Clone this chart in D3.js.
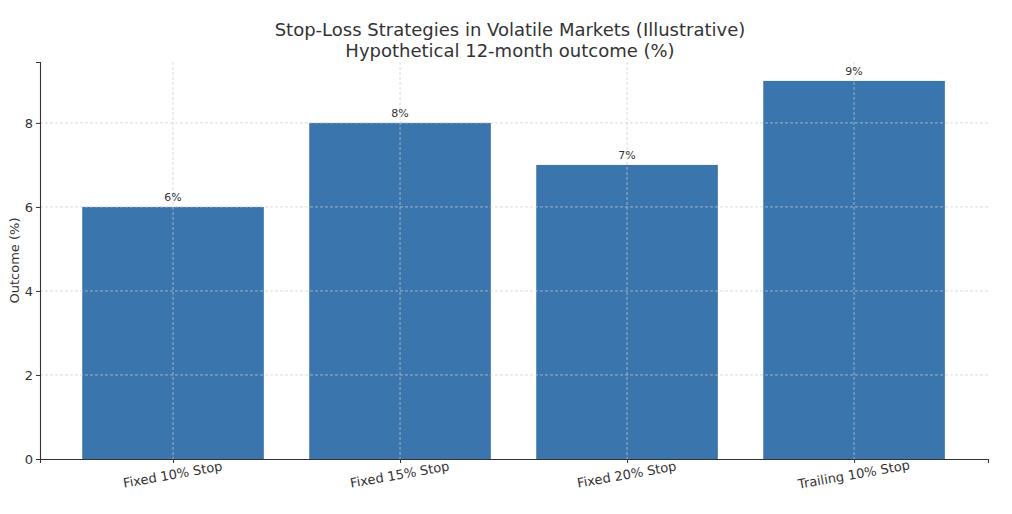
<!DOCTYPE html>
<html>
<head>
<meta charset="utf-8">
<script src="https://cdn.jsdelivr.net/npm/d3@7"></script>
<style>
  body { margin: 0; background: #fff; font-family: "DejaVu Sans", sans-serif; }
</style>
</head>
<body>
<script>
// chart data
var categories = ["Fixed 10% Stop", "Fixed 15% Stop", "Fixed 20% Stop", "Trailing 10% Stop"];
var outcomes = [6, 8, 7, 9];
var yTicks = [0, 2, 4, 6, 8];

var W = 1012, H = 514;
var margin = {top: 62, right: 24, bottom: 55, left: 40};
var width = W - margin.left - margin.right,
    height = H - margin.top - margin.bottom;

var svg = d3.select("body").append("svg")
    .attr("width", W).attr("height", H);
var g = svg.append("g")
    .attr("transform", "translate(" + margin.left + "," + margin.top + ")");

// x positions like matplotlib: index-based with padded limits
var x = d3.scaleLinear().domain([-0.586, 3.59]).range([0, width]);
var y = d3.scaleLinear().domain([0, 9.45]).range([height, 0]);
var barW = x(0.8) - x(0);

// bars
g.selectAll(".bar")
  .data(outcomes)
  .enter().append("rect")
  .attr("class", "bar")
  .attr("x", function(d, i) { return x(i - 0.4); })
  .attr("y", function(d) { return y(d); })
  .attr("width", barW)
  .attr("height", function(d) { return height - y(d); })
  .attr("fill", "#3a75ae");

// grid (on top of bars)
g.selectAll(".hgrid").data(yTicks.slice(1)).enter().append("line")
  .attr("x1", 0).attr("x2", width)
  .attr("y1", function(d) { return y(d); }).attr("y2", function(d) { return y(d); })
  .attr("stroke", "#ccc").attr("stroke-width", 0.7).attr("stroke-dasharray", "3,2");
g.selectAll(".vgrid").data(categories).enter().append("line")
  .attr("x1", function(d, i) { return x(i); }).attr("x2", function(d, i) { return x(i); })
  .attr("y1", 0).attr("y2", height)
  .attr("stroke", "#ccc").attr("stroke-width", 0.7).attr("stroke-dasharray", "3,2");

// value labels
g.selectAll(".lbl").data(outcomes).enter().append("text")
  .attr("x", function(d, i) { return x(i); })
  .attr("y", function(d) { return y(d) - 6; })
  .attr("text-anchor", "middle")
  .style("font-size", "11px").style("fill", "#333")
  .text(function(d) { return d + "%"; });

// axes
var yAxis = g.append("g")
  .call(d3.axisLeft(y).tickValues(yTicks).tickSize(4).tickFormat(d3.format("d")));
var xAxis = g.append("g")
  .attr("transform", "translate(0," + height + ")")
  .call(d3.axisBottom(x).tickValues([0, 1, 2, 3]).tickSize(4)
        .tickFormat(function(i) { return categories[i]; }));
[xAxis, yAxis].forEach(function(a) {
  a.select(".domain").attr("stroke", "#333").attr("stroke-width", 1.1);
  a.selectAll(".tick line").attr("stroke", "#333");
  a.selectAll("text").style("font-size", "13px").style("fill", "#333")
    .style("font-family", "DejaVu Sans, sans-serif");
});
xAxis.selectAll("text")
  .attr("y", 0).attr("dy", 0)
  .attr("transform", "translate(0,20) rotate(-10)")
  .style("text-anchor", "middle");

// titles
svg.append("text").attr("x", W / 2 + 4).attr("y", 36)
  .attr("text-anchor", "middle").style("font-size", "18px").style("fill", "#333")
  .text("Stop-Loss Strategies in Volatile Markets (Illustrative)");
svg.append("text").attr("x", W / 2 + 4).attr("y", 57)
  .attr("text-anchor", "middle").style("font-size", "18px").style("fill", "#333")
  .text("Hypothetical 12-month outcome (%)");

// y label
svg.append("text")
  .attr("transform", "translate(19," + (margin.top + height / 2) + ") rotate(-90)")
  .attr("text-anchor", "middle").style("font-size", "13px").style("fill", "#333")
  .text("Outcome (%)");
</script>
</body>
</html>
